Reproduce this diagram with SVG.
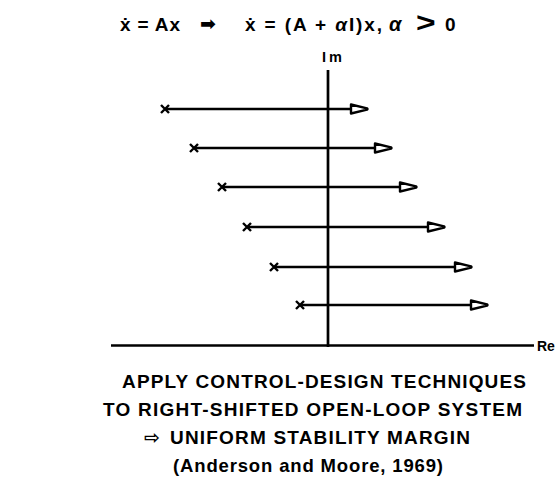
<svg xmlns="http://www.w3.org/2000/svg" width="559" height="485" viewBox="0 0 559 485">
<style>
.ln{stroke:#000;stroke-width:2.7;fill:none}
.ax{stroke:#000;stroke-width:2.7;fill:none}
.xm{stroke:#000;stroke-width:2.4;fill:none}
.ah{stroke:#000;stroke-width:2.4;fill:#fff;stroke-linejoin:round}
.t{font-family:"Liberation Sans",Arial,sans-serif;font-weight:bold;fill:#000}
.sym{font-family:"DejaVu Sans",sans-serif;font-weight:bold;fill:#000}
</style>
<defs>
<g id="cross"><path class="xm" d="M-4,-4L4,4M-4,4L4,-4"/></g>
<path id="head" class="ah" d="M-17,-4.5 L-1,-0.6 Q0,0 -1,0.6 L-17,4.5 Z"/>
</defs>
<rect width="559" height="485" fill="#fff"/>
<g id="title">
<text class="t" x="120" y="31" font-size="19" textLength="60" lengthAdjust="spacing">ẋ = Ax</text>
<text class="sym" x="200" y="30" font-size="19">➡</text>
<text class="t" x="245" y="31" font-size="19" textLength="137" lengthAdjust="spacing">ẋ = (A + <tspan font-style="italic">α</tspan>I)x,</text>
<text class="t" x="389" y="31" font-size="20" font-style="italic">α</text>
<text class="t" font-size="24" font-weight="normal" transform="translate(416,32) scale(1.4,1.15)">&gt;</text>
<text class="t" x="445" y="31" font-size="19">0</text>
</g>
<g id="axes">
<path class="ax" d="M328,70 V347"/>
<path class="ax" d="M111,345.5 H534"/>
<text class="t" x="322" y="62" font-size="14.5" textLength="20" lengthAdjust="spacing">Im</text>
<text class="t" x="537" y="351" font-size="14">Re</text>
</g>
<g id="connectors">
<path class="ln" d="M165,109 H352"/>
<path class="ln" d="M194,148 H376"/>
<path class="ln" d="M222,187 H401"/>
<path class="ln" d="M247,227 H429"/>
<path class="ln" d="M274,267 H456"/>
<path class="ln" d="M300,305 H472"/>
<use href="#head" transform="translate(368,109)"/>
<use href="#head" transform="translate(392,148)"/>
<use href="#head" transform="translate(417,187)"/>
<use href="#head" transform="translate(445,227)"/>
<use href="#head" transform="translate(472,267)"/>
<use href="#head" transform="translate(488,305)"/>
</g>
<g id="pole1"><use href="#cross" transform="translate(165,109)"/></g>
<g id="pole2"><use href="#cross" transform="translate(194,148)"/></g>
<g id="pole3"><use href="#cross" transform="translate(222,187)"/></g>
<g id="pole4"><use href="#cross" transform="translate(247,227)"/></g>
<g id="pole5"><use href="#cross" transform="translate(274,267)"/></g>
<g id="pole6"><use href="#cross" transform="translate(300,305)"/></g>
<g id="caption">
<text class="t" x="122" y="388" font-size="19" textLength="404" lengthAdjust="spacing">APPLY CONTROL-DESIGN TECHNIQUES</text>
<text class="t" x="103" y="416" font-size="19" textLength="419" lengthAdjust="spacing">TO RIGHT-SHIFTED OPEN-LOOP SYSTEM</text>
<text class="sym" x="144" y="444" font-size="19">⇨</text>
<text class="t" x="170" y="444" font-size="19" textLength="300" lengthAdjust="spacing">UNIFORM STABILITY MARGIN</text>
<text class="t" x="173" y="472" font-size="18.5" textLength="270" lengthAdjust="spacing">(Anderson and Moore, 1969)</text>
</g>
</svg>
